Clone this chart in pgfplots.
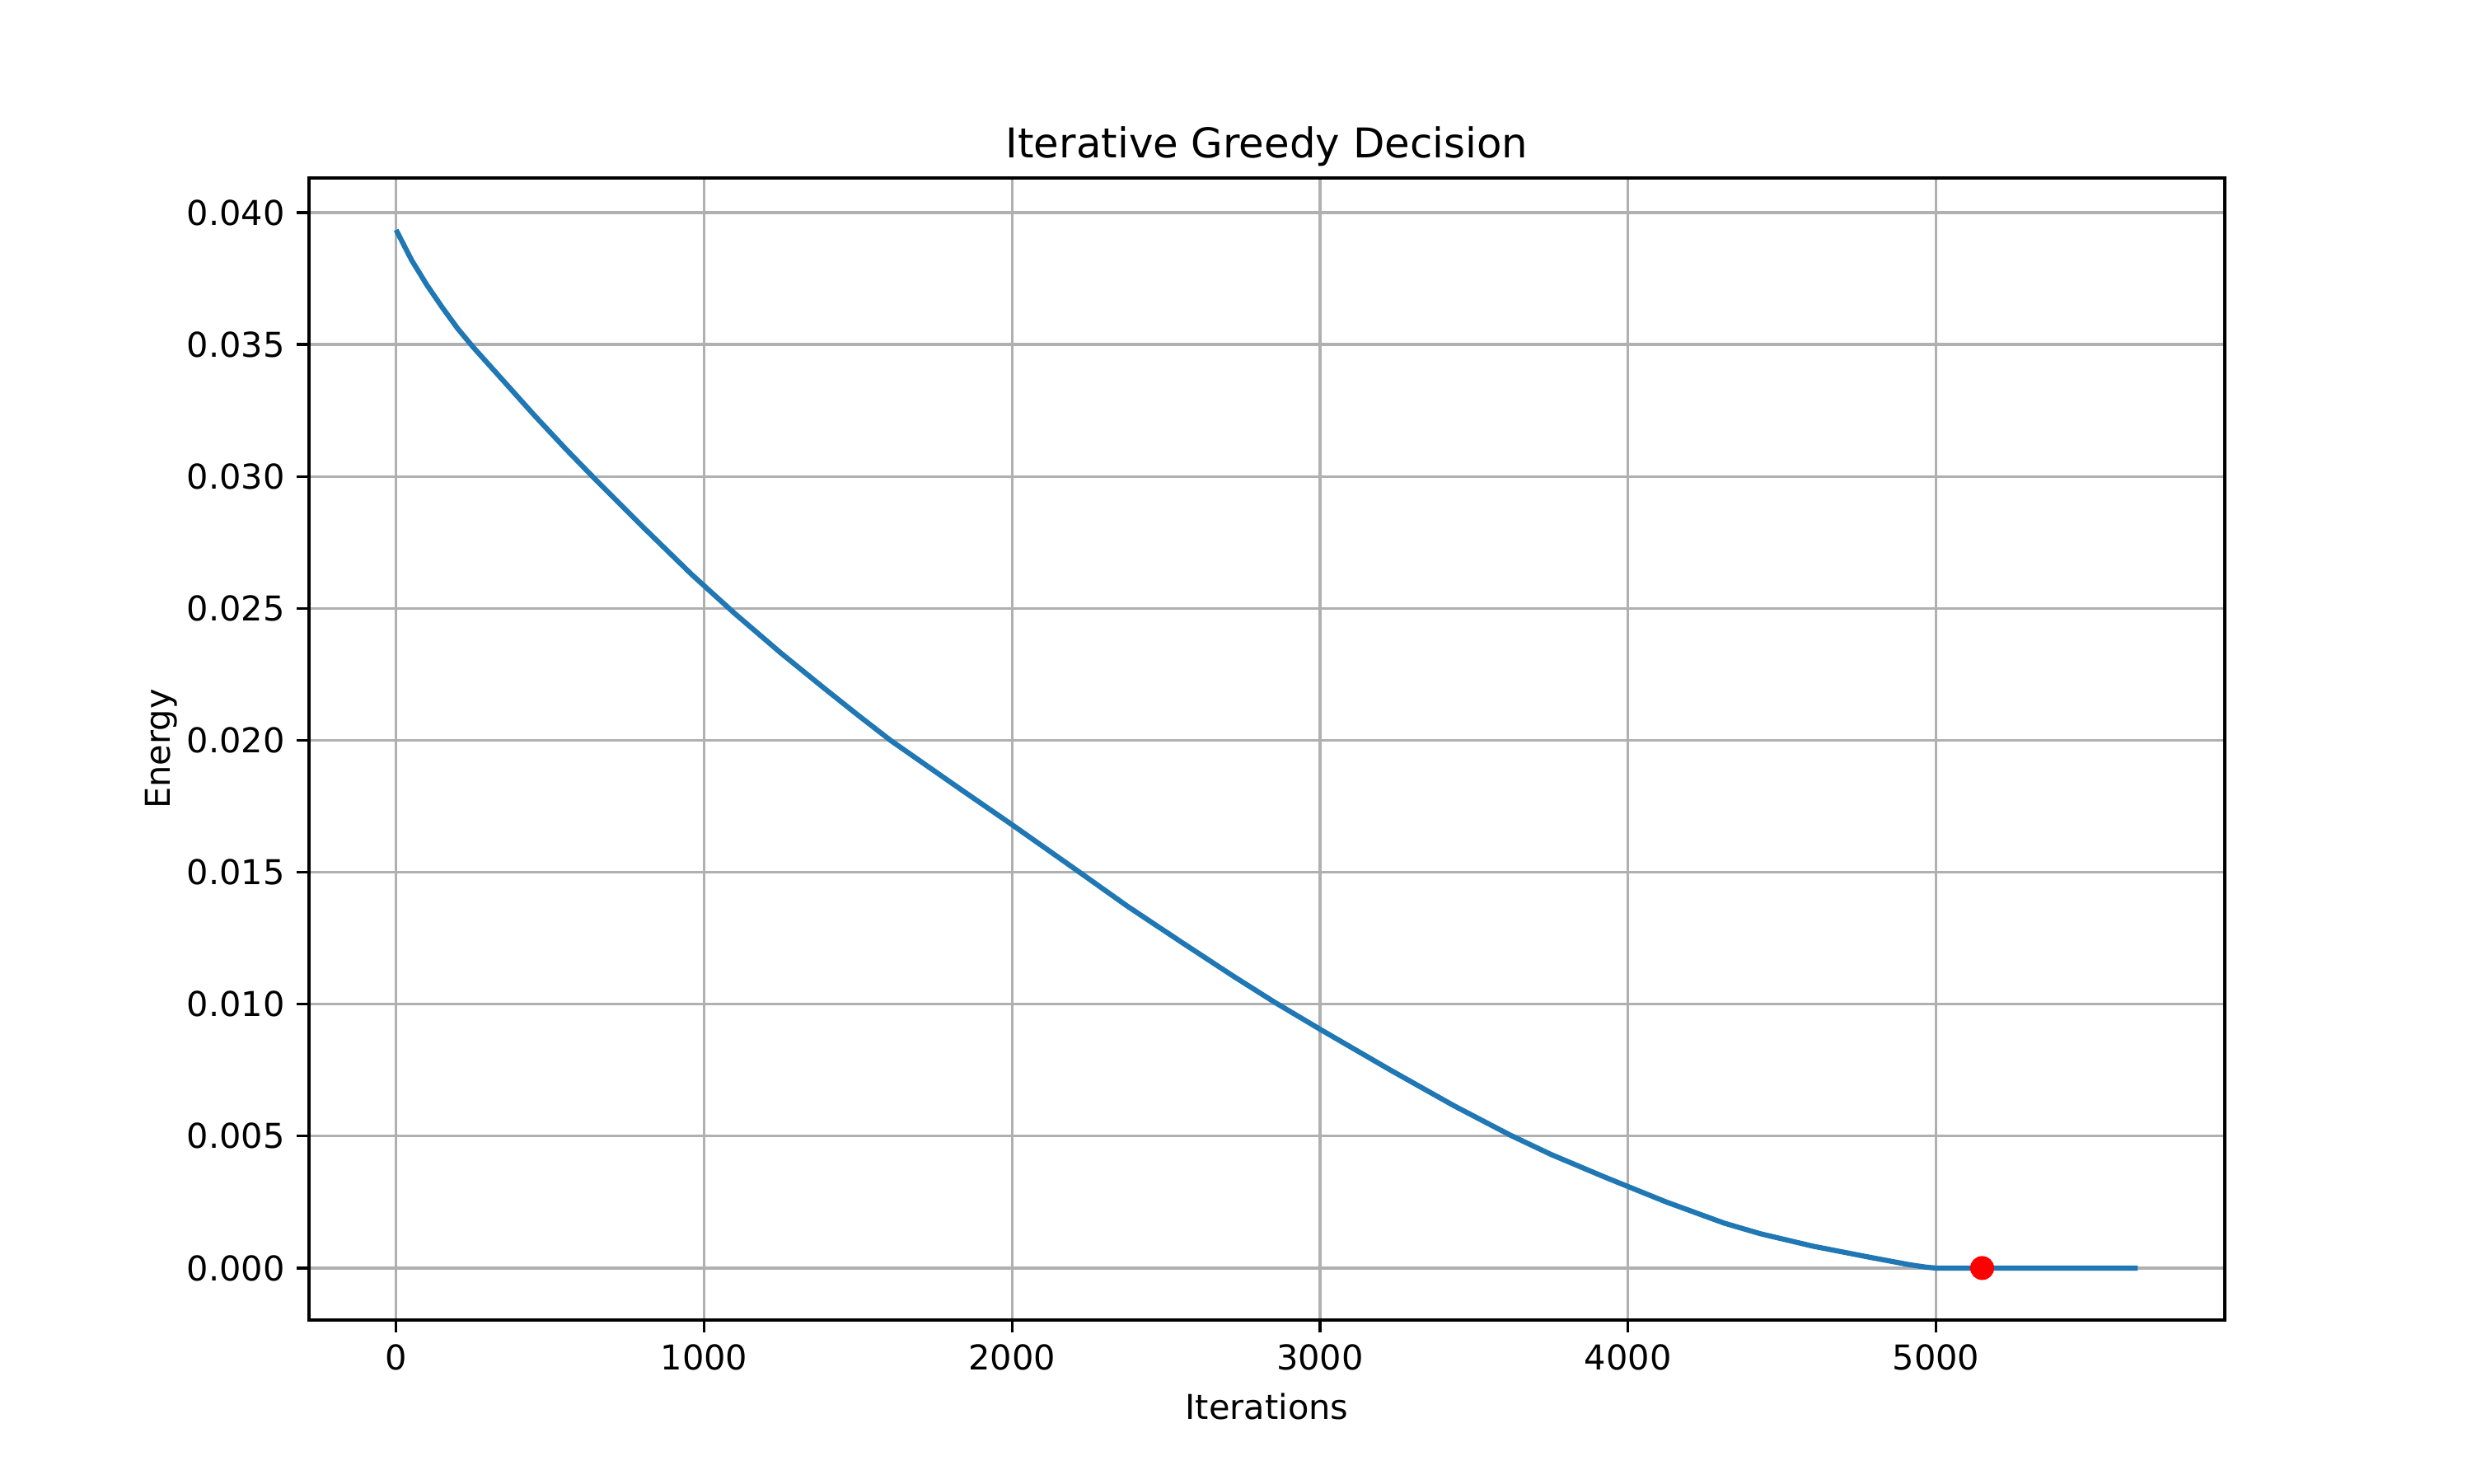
\documentclass[border=0pt]{standalone}
\usepackage{fontspec}
\setmainfont{DejaVu Sans}
\usepackage{pgfplots}
\pgfplotsset{compat=1.18}
\definecolor{mplblue}{HTML}{1F77B4}
\definecolor{mplgrid}{HTML}{B0B0B0}

\pgfplotstableread{
iter energy
0 0.03934
50 0.03820
100 0.03725
150 0.03640
200 0.03560
250 0.03490
350 0.03360
450 0.03230
550 0.03105
650 0.02985
800 0.02810
960 0.02628
1100 0.02480
1250 0.02330
1387 0.02200
1500 0.02095
1605 0.02000
1826 0.01820
2000 0.01680
2213 0.01505
2376 0.01370
2550 0.01235
2720 0.01105
2853 0.01007
3000 0.00905
3229 0.00750
3435 0.00615
3619 0.00503
3751 0.00430
3928 0.00343
4000 0.00309
4125 0.00250
4313 0.00170
4430 0.00130
4600 0.00083
4780 0.00042
4912 0.00013
4970 0.00003
5000 0.00000
5655 0.00000
}\energydata

\begin{document}
\fontsize{10}{12}\selectfont
\begin{tikzpicture}
\path[use as bounding box] (-1.25in,-0.66in) rectangle (8.75in,5.34in);
\begin{axis}[
    at={(0,0)}, anchor=south west,
    scale only axis,
    width=7.75in, height=4.62in,
    xmin=-283, xmax=5938,
    ymin=-0.00197, ymax=0.04131,
    xtick={0,1000,2000,3000,4000,5000},
    ytick={0,0.005,0.01,0.015,0.02,0.025,0.03,0.035,0.04},
    scaled y ticks=false,
    /pgf/number format/assume math mode=true,
    xticklabel style={/pgf/number format/1000 sep={}},
    yticklabel style={/pgf/number format/.cd, fixed, fixed zerofill, precision=3},
    tick align=outside,
    xtick pos=bottom, ytick pos=left,
    major tick length=3.5pt,
    every tick/.style={black, line width=0.8pt},
    axis line style={line width=0.8pt},
    grid=major,
    grid style={mplgrid, line width=0.8pt},
    title={Iterative Greedy Decision},
    every axis title/.style={at={(0.5,1)}, anchor=base, yshift=6pt,
        font=\fontsize{12}{14}\selectfont},
    xlabel={Iterations},
    ylabel={Energy},
    ylabel style={yshift=-4pt},
    ticklabel style={font=\fontsize{10}{12}\selectfont},
]
\addplot[mplblue, line width=1.5pt, line join=round] table[x=iter, y=energy] {\energydata};
\addplot[only marks, mark=*, mark size=3.3pt, color=red] coordinates {(5150,0)};
\end{axis}
\end{tikzpicture}
\end{document}
